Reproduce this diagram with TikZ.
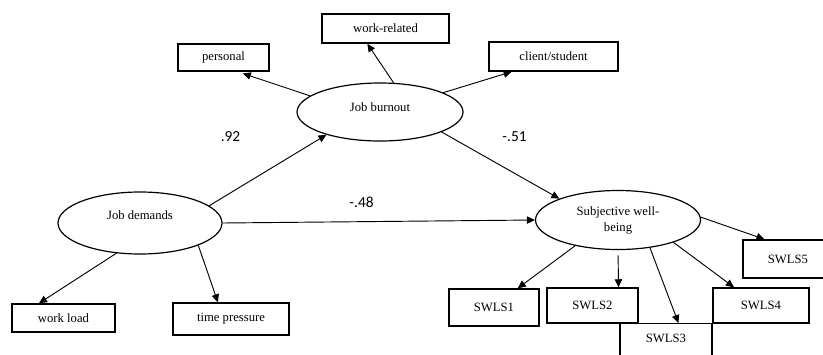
\documentclass[tikz,border=0pt]{standalone}
\usepackage{fontspec}
\setmainfont{Liberation Serif}
\newfontfamily\coeffont{Carlito}
\usetikzlibrary{shapes.geometric,arrows.meta}

\tikzset{
  indbox/.style 2 args={draw, line width=1.1pt, inner sep=0pt,
    minimum width=#1*0.75pt, minimum height=#2*0.75pt,
    font=\fontsize{9.5}{12}\selectfont},
  latent/.style 2 args={ellipse, draw, line width=0.9pt, inner sep=0pt,
    minimum width=#1*0.75pt, minimum height=#2*0.75pt,
    font=\fontsize{9.5}{12}\selectfont, align=center},
  arr/.style={-{Triangle[length=6pt,width=5.5pt]}, line width=0.7pt},
  coef/.style={font=\coeffont\fontsize{11.5}{13}\selectfont}
}

\begin{document}
\begin{tikzpicture}[x=0.75pt,y=-0.75pt]
    \useasboundingbox (0,0) rectangle (823,354);

    % latent variables
    \node[latent={166}{58}, text height=7pt, text depth=7.5pt] (burnout) at (380,112) {Job burnout};
    \node[latent={164}{62}, text height=7pt, text depth=12pt] (demands) at (140,223) {Job demands};
    \node[latent={165}{59}] (swb) at (618,220) {Subjective well-\\being};

    % indicators of burnout
    \node[indbox={91}{27}] (personal) at (223.5,57.5) {personal};
    \node[indbox={127}{29}] (workrel) at (385.5,28.5) {work-related};
    \node[indbox={129}{29}] (client) at (553.5,56.5) {client/student};

    % indicators of demands
    \node[indbox={103}{28}] (workload) at (63.5,318) {work load};
    \node[indbox={116}{32}] (timepress) at (231,319) {time pressure};

    % indicators of well-being
    \node[indbox={90}{37}] (swls1) at (494,307.5) {SWLS1};
    \node[indbox={91}{35}] (swls2) at (592.5,305.5) {SWLS2};
    \node[indbox={92}{40}, anchor=north, text height=7pt, text depth=9pt] (swls3) at (666,323) {SWLS3};
    \node[indbox={96}{35}] (swls4) at (761,305.5) {SWLS4};
    \node[indbox={90}{38}] (swls5) at (788,259) {SWLS5};

    % structural paths
    \draw[arr] (demands.14.6) -- (burnout.203.5);
    \draw[arr] (burnout.-18.4) -- (swb.160);
    \draw[arr] (demands.east) -- (swb.west);

    \node[coef] (c92) at (230.5,137) {.92};
    \node[coef] (c51) at (514.5,137) {-.51};
    \node[coef] (c48) at (361.5,202) {-.48};

    % measurement paths
    \draw[arr, shorten >=4pt] (burnout.167.5) -- (personal.-45);
    \draw[arr] (burnout.65) -- (workrel.-140);
    \draw[arr] (burnout.17.9) -- (client.-160);

    \draw[arr] (demands.-128) -- (workload.149);
    \draw[arr] (demands.-21.8) -- (timepress.128);

    \draw[arr] (swb.-149) -- (swls1.39);
    \draw[arr, shorten <=4pt] (swb.south) -- (swls2.35.5);
    \draw[arr] (swb.-41) -- (swls3.59);
    \draw[arr] (swb.-22.8) -- (swls4.146);
    \draw[arr] (swb.2) -- (swls5.140);

\end{tikzpicture}
\end{document}
